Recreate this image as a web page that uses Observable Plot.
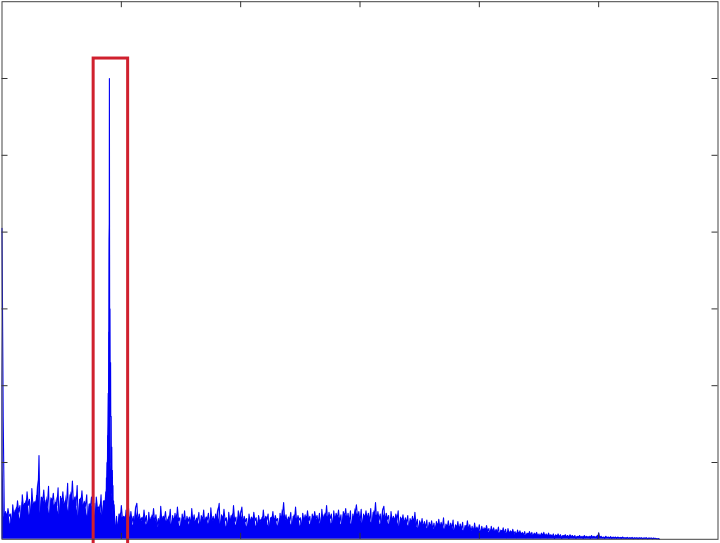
<!DOCTYPE html>
<html>
<head>
<meta charset="utf-8">
<script src="https://cdn.jsdelivr.net/npm/d3@7"></script>
<script src="https://cdn.jsdelivr.net/npm/@observablehq/plot@0.6"></script>
<style>
  html, body { margin: 0; padding: 0; background: #fff; }
  #chart svg { display: block; }
</style>
</head>
<body>
<div id="chart"></div>
<script>
// Spectrum magnitude, sampled at unit steps of the x axis (0–600)
const bandA = [4.05, 1.58, 0.22, 0.36, 0.25, 0.40, 0.30, 0.33, 0.06, 0.45,
  0.28, 0.38, 0.31, 0.50, 0.35, 0.44, 0.08, 0.58, 0.40, 0.47,
  0.36, 0.62, 0.44, 0.52, 0.10, 0.66, 0.42, 0.49, 0.38, 0.57,
  0.45, 1.09, 0.12, 0.55, 0.46, 0.64, 0.40, 0.51, 0.43, 0.69,
  0.09, 0.54, 0.47, 0.60, 0.39, 0.48, 0.44, 0.67, 0.07, 0.56,
  0.45, 0.62, 0.41, 0.50, 0.43, 0.73, 0.11, 0.58, 0.48, 0.76,
  0.42, 0.55, 0.44, 0.70, 0.08, 0.52, 0.45, 0.63, 0.40, 0.49,
  0.43, 0.58, 0.10, 0.46, 0.38, 0.55];
const bandPeakLead = [0.36, 0.47, 0.08, 0.55, 0.40, 0.42, 0.34, 0.58, 0.12, 0.50, 0.38];
const peakCore = [0.62, 0.40, 0.80, 0.45, 1.00, 0.60, 1.35, 0.80, 1.90, 1.10,
  2.70, 1.80, 6.00, 2.20, 3.00, 1.60, 2.30, 1.00, 1.60, 0.60,
  1.20, 0.40, 0.90, 0.25, 0.70, 0.15, 0.50, 0.10, 0.45];
const bandPeakTail = [0.04, 0.30, 0.05, 0.33, 0.22, 0.44, 0.25, 0.30, 0.20, 0.38, 0.24, 0.41];
const bandB = [0.20, 0.36, 0.22, 0.30, 0.05, 0.41, 0.47, 0.21, 0.33, 0.24,
  0.28, 0.18, 0.38, 0.23, 0.31, 0.06, 0.35, 0.19, 0.29, 0.24,
  0.40, 0.21, 0.32, 0.17, 0.27, 0.04, 0.43, 0.22, 0.30, 0.25,
  0.36, 0.19, 0.26, 0.23, 0.39, 0.07, 0.31, 0.20, 0.34, 0.18,
  0.42, 0.24, 0.28, 0.05, 0.33, 0.21, 0.37, 0.17, 0.30, 0.23,
  0.29, 0.08, 0.40, 0.22, 0.32, 0.19, 0.27, 0.24, 0.35, 0.06,
  0.31, 0.21, 0.38, 0.18, 0.29, 0.25, 0.34, 0.05, 0.41, 0.22,
  0.30, 0.17, 0.33, 0.23, 0.36, 0.47, 0.07, 0.32, 0.20, 0.39,
  0.24, 0.28, 0.04, 0.35, 0.21, 0.31, 0.19, 0.44, 0.23, 0.29,
  0.06, 0.37, 0.22, 0.33];
const bandC = [0.42, 0.20, 0.30, 0.23, 0.27, 0.05, 0.33, 0.21, 0.29, 0.18,
  0.35, 0.24, 0.28, 0.06, 0.31, 0.22, 0.26, 0.19, 0.38, 0.21,
  0.30, 0.25, 0.33, 0.04, 0.28, 0.22, 0.36, 0.20, 0.31, 0.24,
  0.27, 0.07, 0.34, 0.21, 0.30, 0.48, 0.23, 0.32, 0.19, 0.29,
  0.24, 0.35, 0.05, 0.30, 0.22, 0.42, 0.20, 0.31, 0.25, 0.28,
  0.06, 0.34, 0.23, 0.32, 0.21, 0.37, 0.24, 0.30, 0.08, 0.33,
  0.22, 0.36, 0.26, 0.31, 0.20, 0.34, 0.05, 0.39, 0.24, 0.32,
  0.25, 0.44, 0.21, 0.35, 0.27, 0.33, 0.07, 0.37, 0.23, 0.34,
  0.26, 0.38, 0.22, 0.32, 0.06, 0.36, 0.28, 0.40, 0.24, 0.34,
  0.21, 0.37, 0.05, 0.33, 0.25, 0.35, 0.45, 0.27, 0.36, 0.22,
  0.39, 0.08, 0.33, 0.24, 0.37, 0.26, 0.34, 0.21, 0.40, 0.06,
  0.35, 0.27, 0.48, 0.23, 0.36, 0.25, 0.33, 0.05, 0.38, 0.43,
  0.22, 0.34, 0.26, 0.31, 0.07, 0.36, 0.23, 0.30, 0.20, 0.33,
  0.25, 0.37, 0.04, 0.29, 0.22, 0.32, 0.19, 0.28, 0.21, 0.31,
  0.06, 0.27, 0.20, 0.30, 0.18, 0.35, 0.17, 0.26, 0.05, 0.24,
  0.16, 0.27, 0.15, 0.23, 0.14, 0.25, 0.04, 0.22, 0.15, 0.24,
  0.13, 0.21, 0.05, 0.23, 0.14];
const bandD = [0.26, 0.15, 0.22, 0.14, 0.28, 0.04, 0.20, 0.13, 0.24, 0.12,
  0.21, 0.13, 0.25, 0.03, 0.19, 0.12, 0.23, 0.11, 0.20, 0.12,
  0.22, 0.03, 0.18, 0.11, 0.24, 0.12, 0.19, 0.10, 0.17, 0.04,
  0.21, 0.11, 0.16, 0.10, 0.19, 0.03, 0.17, 0.10, 0.15, 0.09,
  0.18, 0.10, 0.14, 0.03, 0.17, 0.09, 0.15, 0.08, 0.13, 0.08,
  0.16, 0.03, 0.12, 0.08, 0.15, 0.07, 0.13, 0.02, 0.14, 0.07,
  0.11, 0.06, 0.13, 0.07, 0.10, 0.02, 0.12, 0.06, 0.11, 0.06,
  0.09, 0.05, 0.10, 0.02, 0.08, 0.05, 0.10, 0.05, 0.09, 0.02,
  0.08, 0.05, 0.09, 0.04, 0.07, 0.02, 0.08, 0.04, 0.09, 0.04,
  0.07, 0.02, 0.08, 0.04, 0.06, 0.03, 0.07, 0.01, 0.06, 0.03,
  0.07, 0.03, 0.06, 0.01, 0.05, 0.03, 0.06, 0.03, 0.05, 0.01,
  0.06, 0.03, 0.05, 0.02, 0.05, 0.01, 0.04, 0.02, 0.05, 0.02,
  0.04, 0.01, 0.05, 0.02, 0.04, 0.02, 0.04, 0.01, 0.05, 0.02,
  0.04, 0.02, 0.04, 0.01, 0.085, 0.02, 0.04, 0.02, 0.03, 0.01,
  0.04, 0.02, 0.03, 0.015, 0.035, 0.01, 0.03, 0.015, 0.03, 0.01,
  0.03, 0.015, 0.025, 0.01, 0.03, 0.015, 0.02, 0.01, 0.025, 0.01,
  0.02, 0.01, 0.025, 0.005, 0.02, 0.01, 0.02, 0.005, 0.02, 0.01,
  0.02, 0.005, 0.018, 0.01, 0.02, 0.005, 0.015, 0.01, 0.018, 0.005,
  0.015, 0.01, 0.012, 0.005, 0.01, 0.0];

// where each band starts on the x axis, and its sample step
const bandStarts = [0, 76, 87, 95, 107, 201, 366];
const bandSteps = [1, 1, 0.25, 1, 1, 1, 1];
const bands = [bandA, bandPeakLead, peakCore, bandPeakTail, bandB, bandC, bandD];

// tick positions (no labels in the picture)
const xTicks = [100, 200, 300, 400, 500];
const yTicks = [1, 2, 3, 4, 5, 6];

// highlighted frequency range (red box)
const highlightX = [76.8, 105.7];
const highlightTop = 6.26;

const series = [];
bands.forEach((vals, b) => {
  vals.forEach((v, i) => series.push({x: bandStarts[b] + i * bandSteps[b], y: v}));
});

const W = 720, H = 543;
const mt = 1.2, mb = 4.2, ml = 1.5, mr = 2.5;
const frameH = H - mt - mb, frameW = W - ml - mr;
const tickLen = 6;
const blue = "#0000f5";

const chart = Plot.plot({
  width: W,
  height: H,
  marginTop: mt, marginBottom: mb, marginLeft: ml, marginRight: mr,
  style: {background: "#fff"},
  x: {domain: [0, 600], axis: null},
  y: {domain: [0, 7], axis: null},
  marks: [
    // dense body of the noisy spectrum
    Plot.areaY(series, Plot.windowY({k: 2, reduce: "mean"}, {x: "x", y: "y", fill: blue})),
    Plot.line(series, {x: "x", y: "y", stroke: blue, strokeWidth: 1.1, strokeLinejoin: "round"}),
    Plot.rect([{x1: highlightX[0], x2: highlightX[1], y1: -0.1, y2: highlightTop}],
      {x1: "x1", x2: "x2", y1: "y1", y2: "y2", fill: "none", stroke: "#d0202e", strokeWidth: 3}),
    Plot.tickX(xTicks, {x: d => d, insetBottom: frameH - tickLen, stroke: "#333"}),
    Plot.tickX(xTicks, {x: d => d, insetTop: frameH - tickLen, stroke: "#333"}),
    Plot.tickY(yTicks, {y: d => d, insetRight: frameW - tickLen, stroke: "#333"}),
    Plot.tickY(yTicks, {y: d => d, insetLeft: frameW - tickLen, stroke: "#333"}),
    Plot.frame({stroke: "#444", strokeWidth: 1})
  ]
});
document.getElementById("chart").appendChild(chart);
</script>
</body>
</html>
